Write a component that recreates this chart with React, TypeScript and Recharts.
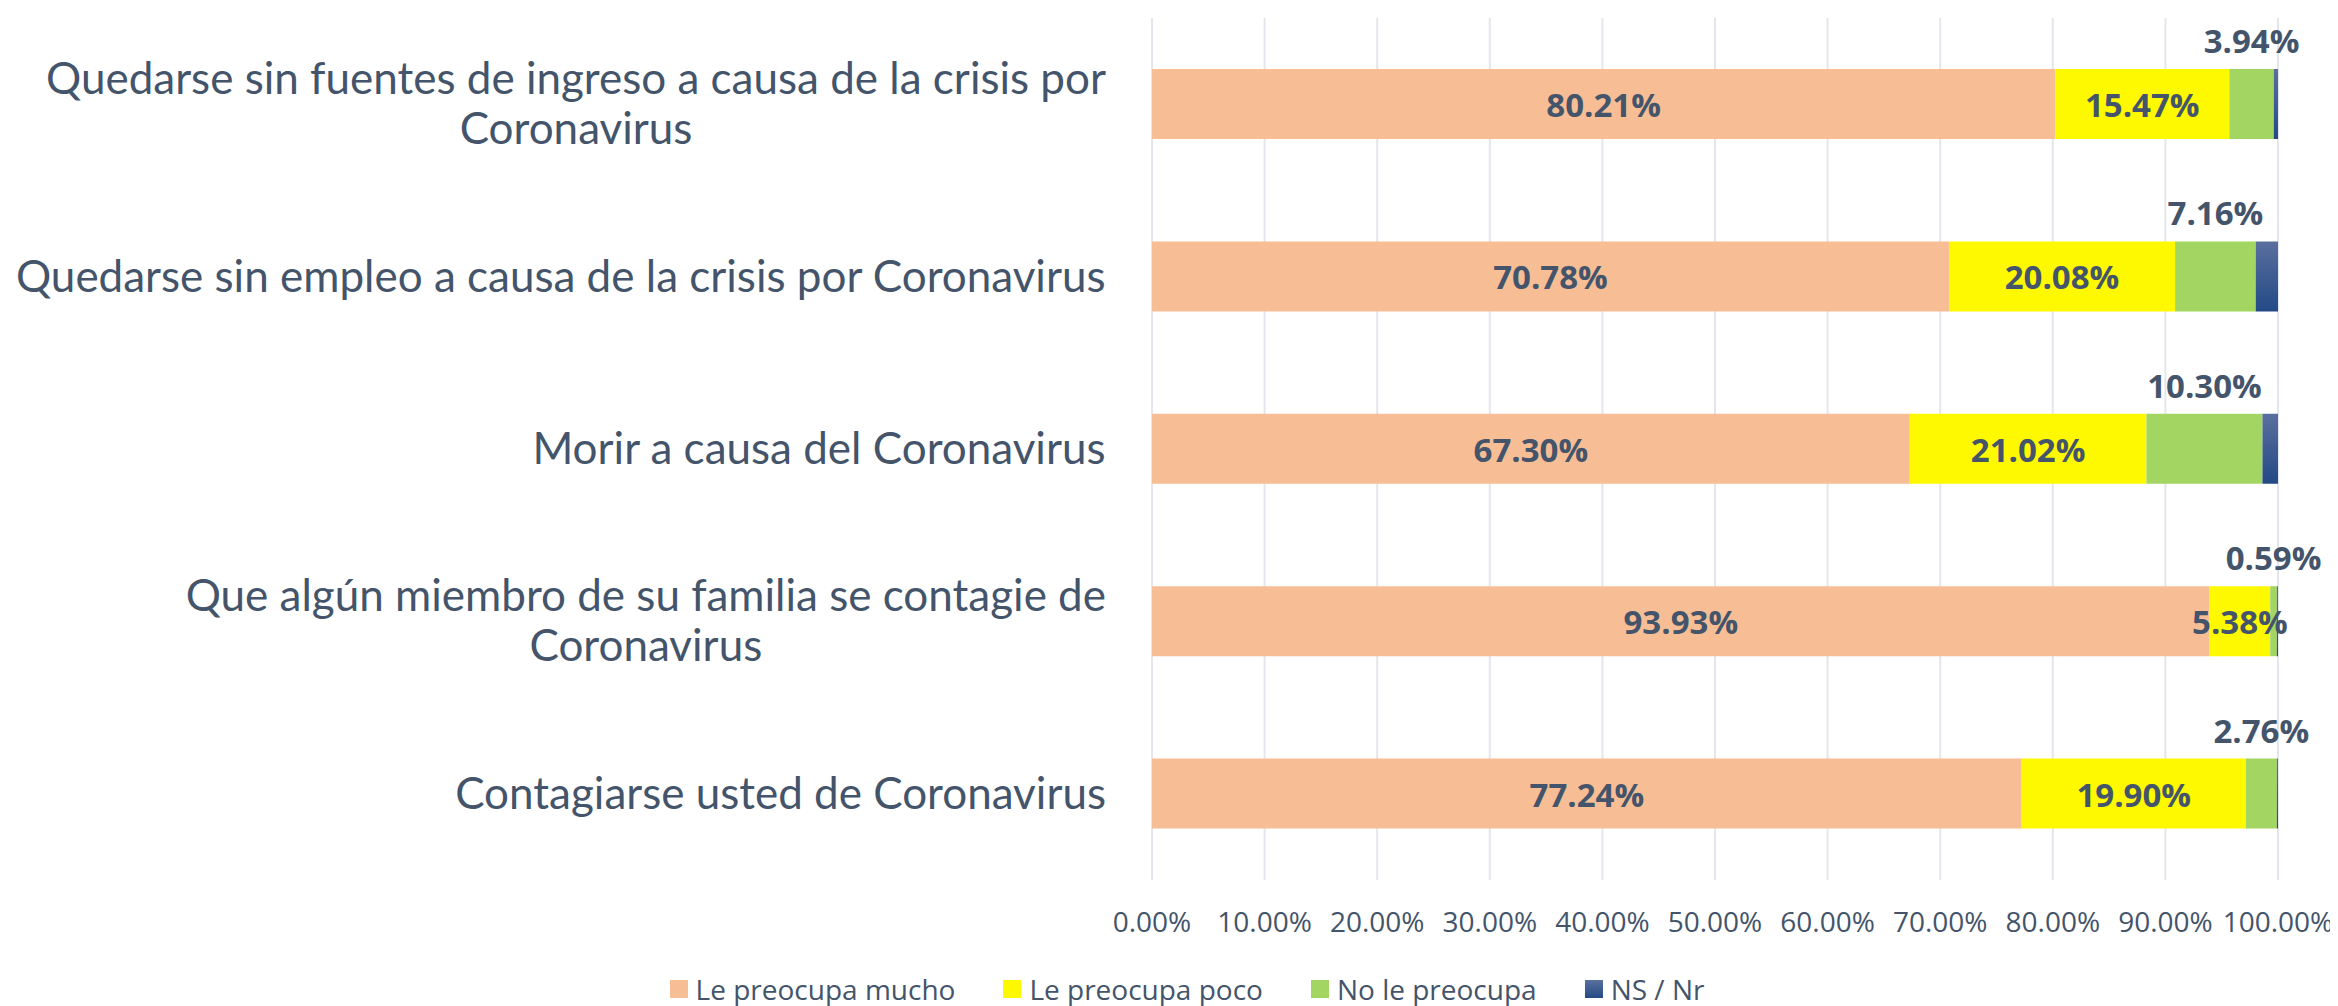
import React from 'react';
import { BarChart, Bar, XAxis, YAxis, CartesianGrid, LabelList, Legend } from 'recharts';

const categories = [
  'Quedarse sin fuentes de ingreso a causa de la crisis por\nCoronavirus',
  'Quedarse sin empleo a causa de la crisis por Coronavirus',
  'Morir a causa del Coronavirus',
  'Que algún miembro de su familia se contagie de\nCoronavirus',
  'Contagiarse usted de Coronavirus',
];
const muchoValues = [80.21, 70.78, 67.3, 93.93, 77.24];
const pocoValues = [15.47, 20.08, 21.02, 5.38, 19.9];
const noValues = [3.94, 7.16, 10.3, 0.59, 2.76];
const nsValues = [0.38, 1.98, 1.38, 0.1, 0.1];
const xTicks = [0, 10, 20, 30, 40, 50, 60, 70, 80, 90, 100];

const seriesNames = ['Le preocupa mucho', 'Le preocupa poco', 'No le preocupa', 'NS / Nr'];

const data = categories.map((name, i) => ({
  name,
  mucho: muchoValues[i],
  poco: pocoValues[i],
  no: noValues[i],
  ns: nsValues[i],
}));

const TEXT = '#44546A';
const COLORS = {
  mucho: '#F7BE96',
  poco: '#FFF900',
  no: '#A3D563',
  ns: 'url(#nsGrad)',
};
const LEGEND_SWATCH: Record<string, string> = {
  'Le preocupa mucho': '#F7BE96',
  'Le preocupa poco': '#FFF900',
  'No le preocupa': '#A3D563',
  'NS / Nr': 'linear-gradient(#5A6F9E, #234A86)',
};

const fmt = (v: any) => `${Number(v).toFixed(2)}%`;

let ctx: CanvasRenderingContext2D | null = null;
function measure(text: string, font: string): number {
  if (!ctx) ctx = document.createElement('canvas').getContext('2d');
  if (!ctx) return text.length * 20;
  ctx.font = font;
  return ctx.measureText(text).width;
}

const CAT_SIZE = 44;
const CategoryTick = (props: any) => {
  const { x, y, payload } = props;
  const lines = String(payload.value).split('\n');
  const widths = lines.map((l) => measure(l, `${CAT_SIZE}px Lato`));
  const maxW = Math.max(...widths);
  const cx = Number(x) - maxW / 2;
  const lh = 50;
  return (
    <g>
      {lines.map((l, i) => (
        <text
          key={i}
          x={cx}
          y={Number(y) + (i - (lines.length - 1) / 2) * lh + 15}
          textAnchor="middle"
          fill={TEXT}
          style={{ fontFamily: 'Lato', fontSize: CAT_SIZE }}
        >
          {l}
        </text>
      ))}
    </g>
  );
};

const InsideLabel = (props: any) => {
  const { x, y, width, height, value } = props;
  return (
    <text
      x={Number(x) + Number(width) / 2}
      y={Number(y) + Number(height) / 2 + 13}
      textAnchor="middle"
      fill={TEXT}
      style={{ fontFamily: 'Open Sans', fontWeight: 700, fontSize: 33 }}
    >
      {fmt(value)}
    </text>
  );
};

const AboveLabel = (props: any) => {
  const { x, y, width, value } = props;
  return (
    <text
      x={Number(x) + Number(width) / 2}
      y={Number(y) - 16}
      textAnchor="middle"
      fill={TEXT}
      style={{ fontFamily: 'Open Sans', fontWeight: 700, fontSize: 33 }}
    >
      {fmt(value)}
    </text>
  );
};

const renderLegend = (props: any) => {
  const payload = [...(props.payload || [])].sort(
    (a: any, b: any) => seriesNames.indexOf(a.value) - seriesNames.indexOf(b.value)
  );
  return (
    <div
      style={{
        height: 34,
        display: 'flex',
        justifyContent: 'center',
        alignItems: 'center',
        paddingLeft: 36,
        fontFamily: 'Open Sans',
        fontSize: 28,
        color: TEXT,
        boxSizing: 'border-box',
      }}
    >
      {payload.map((p: any, i: number) => (
        <div key={i} style={{ display: 'flex', alignItems: 'center', marginLeft: i === 0 ? 0 : 48 }}>
          <div style={{ width: 18, height: 18, background: LEGEND_SWATCH[p.value] || p.color, marginRight: 8 }} />
          <span style={{ lineHeight: '34px' }}>{p.value}</span>
        </div>
      ))}
    </div>
  );
};

export default function App() {
  return (
    <div style={{ width: 2330, height: 998, background: '#fff', fontFamily: 'Open Sans' }}>
      <BarChart
        width={2330}
        height={998}
        data={data}
        layout="vertical"
        margin={{ top: 10, right: 60, bottom: 0, left: 0 }}
        barSize={70}
      >
        <defs>
          <linearGradient id="nsGrad" x1="0" y1="0" x2="0" y2="1">
            <stop offset="0%" stopColor="#5A6F9E" />
            <stop offset="100%" stopColor="#234A86" />
          </linearGradient>
        </defs>
        <CartesianGrid horizontal={false} vertical={true} stroke="#E3E6EC" strokeWidth={2} />
        <XAxis
          type="number"
          domain={[0, 100]}
          ticks={xTicks}
          interval={0}
          tickFormatter={fmt}
          axisLine={false}
          tickLine={false}
          tickMargin={26}
          height={92}
          tick={{ fill: TEXT, fontSize: 28, fontFamily: 'Open Sans' }}
        />
        <YAxis
          type="category"
          dataKey="name"
          width={1144}
          axisLine={false}
          tickLine={false}
          tickMargin={40}
          interval={0}
          tick={<CategoryTick />}
        />
        <Legend verticalAlign="bottom" wrapperStyle={{ left: 0, width: 2322, bottom: 0 }} content={renderLegend} />
        <Bar dataKey="mucho" name={seriesNames[0]} stackId="a" fill={COLORS.mucho} isAnimationActive={false}>
          <LabelList dataKey="mucho" content={<InsideLabel />} />
        </Bar>
        <Bar dataKey="poco" name={seriesNames[1]} stackId="a" fill={COLORS.poco} isAnimationActive={false}>
          <LabelList dataKey="poco" content={<InsideLabel />} />
        </Bar>
        <Bar dataKey="no" name={seriesNames[2]} stackId="a" fill={COLORS.no} isAnimationActive={false}>
          <LabelList dataKey="no" content={<AboveLabel />} />
        </Bar>
        <Bar dataKey="ns" name={seriesNames[3]} stackId="a" fill={COLORS.ns} isAnimationActive={false} />
      </BarChart>
    </div>
  );
}
